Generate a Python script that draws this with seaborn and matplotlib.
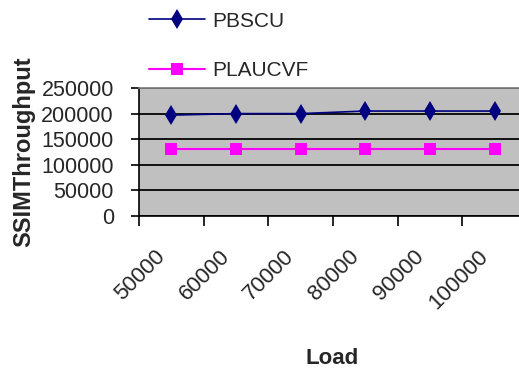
import matplotlib
matplotlib.use("Agg")
import matplotlib.pyplot as plt
import seaborn as sns
import pandas as pd
import numpy as np

# Chart data
loads = ["50000", "60000", "70000", "80000", "90000", "100000"]
pbscu = [197000, 200000, 200000, 205000, 205000, 205000]
plaucvf = [130000, 130000, 130000, 130000, 130000, 130000]
y_ticks = [0, 50000, 100000, 150000, 200000, 250000]

df = pd.DataFrame({
    "Load": loads * 2,
    "value": pbscu + plaucvf,
    "series": ["PBSCU"] * len(loads) + ["PLAUCVF"] * len(loads),
})

sns.set_theme(style="white")
plt.rcParams["font.family"] = ["Liberation Sans", "DejaVu Sans"]

fig = plt.figure(figsize=(5.19, 3.75), dpi=100)
ax = fig.add_axes([139 / 519, 1 - 216 / 375, 388 / 519, 128 / 375])
ax.set_facecolor("#C0C0C0")

palette = {"PBSCU": "#000080", "PLAUCVF": "#FF00FF"}
sns.lineplot(data=df, x="Load", y="value", hue="series", style="series",
             palette=palette, markers={"PBSCU": "d", "PLAUCVF": "s"},
             dashes=False, markersize=10, markeredgewidth=0,
             sort=False, ax=ax, legend=False, zorder=3)
for line, lw, ms in zip(ax.get_lines(), [1.2, 1.5], [10.5, 8.5]):
    line.set_linewidth(lw)
    line.set_markersize(ms)

ax.set_ylim(0, 250000)
ax.set_xlim(-0.5, len(loads) - 0.5)
ax.set_yticks(y_ticks)
ax.set_yticklabels([str(v) for v in y_ticks], fontsize=15.5)
ax.yaxis.grid(True, color="#111111", linewidth=1.4)
ax.set_axisbelow(True)

# Category ticks sit between categories; rotated labels end just left of
# each category centre
ax.set_xticks(np.arange(len(loads) + 1) - 0.5)
ax.set_xticklabels([])
ax.set_xticks(np.arange(len(loads)) - 0.15, minor=True)
ax.set_xticklabels(loads, minor=True, rotation=45, ha="right", va="center",
                   rotation_mode="anchor", fontsize=16)
ax.tick_params(axis="x", which="major", length=7, width=1.2, color="black",
               direction="out", bottom=True)
ax.tick_params(axis="x", which="minor", length=0, pad=27)
ax.tick_params(axis="y", length=6, width=1.2, color="black", direction="out",
               left=True, pad=12)

for side in ["left", "bottom"]:
    ax.spines[side].set_color("black")
    ax.spines[side].set_linewidth(1.2)
ax.spines["top"].set_color("#808080")
ax.spines["right"].set_visible(False)
ax.set_xlabel("")
ax.set_ylabel("")

fig.text(24 / 519, 1 - 152 / 375, "SSIMThroughput", rotation=90,
         ha="center", va="center", fontsize=17, fontweight="bold")
fig.text(332 / 519, 1 - 358 / 375, "Load", ha="center", va="center",
         fontsize=16, fontweight="bold")

handles = [
    plt.Line2D([], [], color="#000080", marker="d", markersize=10.5,
               markeredgewidth=0, linewidth=1.2),
    plt.Line2D([], [], color="#FF00FF", marker="s", markersize=8.5,
               markeredgewidth=0, linewidth=1.5),
]
fig.legend(handles, ["PBSCU", "PLAUCVF"], loc="upper left",
           bbox_to_anchor=(130 / 519, 1 + 7 / 375), frameon=False,
           fontsize=15, handlelength=2.7, handletextpad=0.35,
           labelspacing=1.45)

fig.savefig("out.png", dpi=100)
